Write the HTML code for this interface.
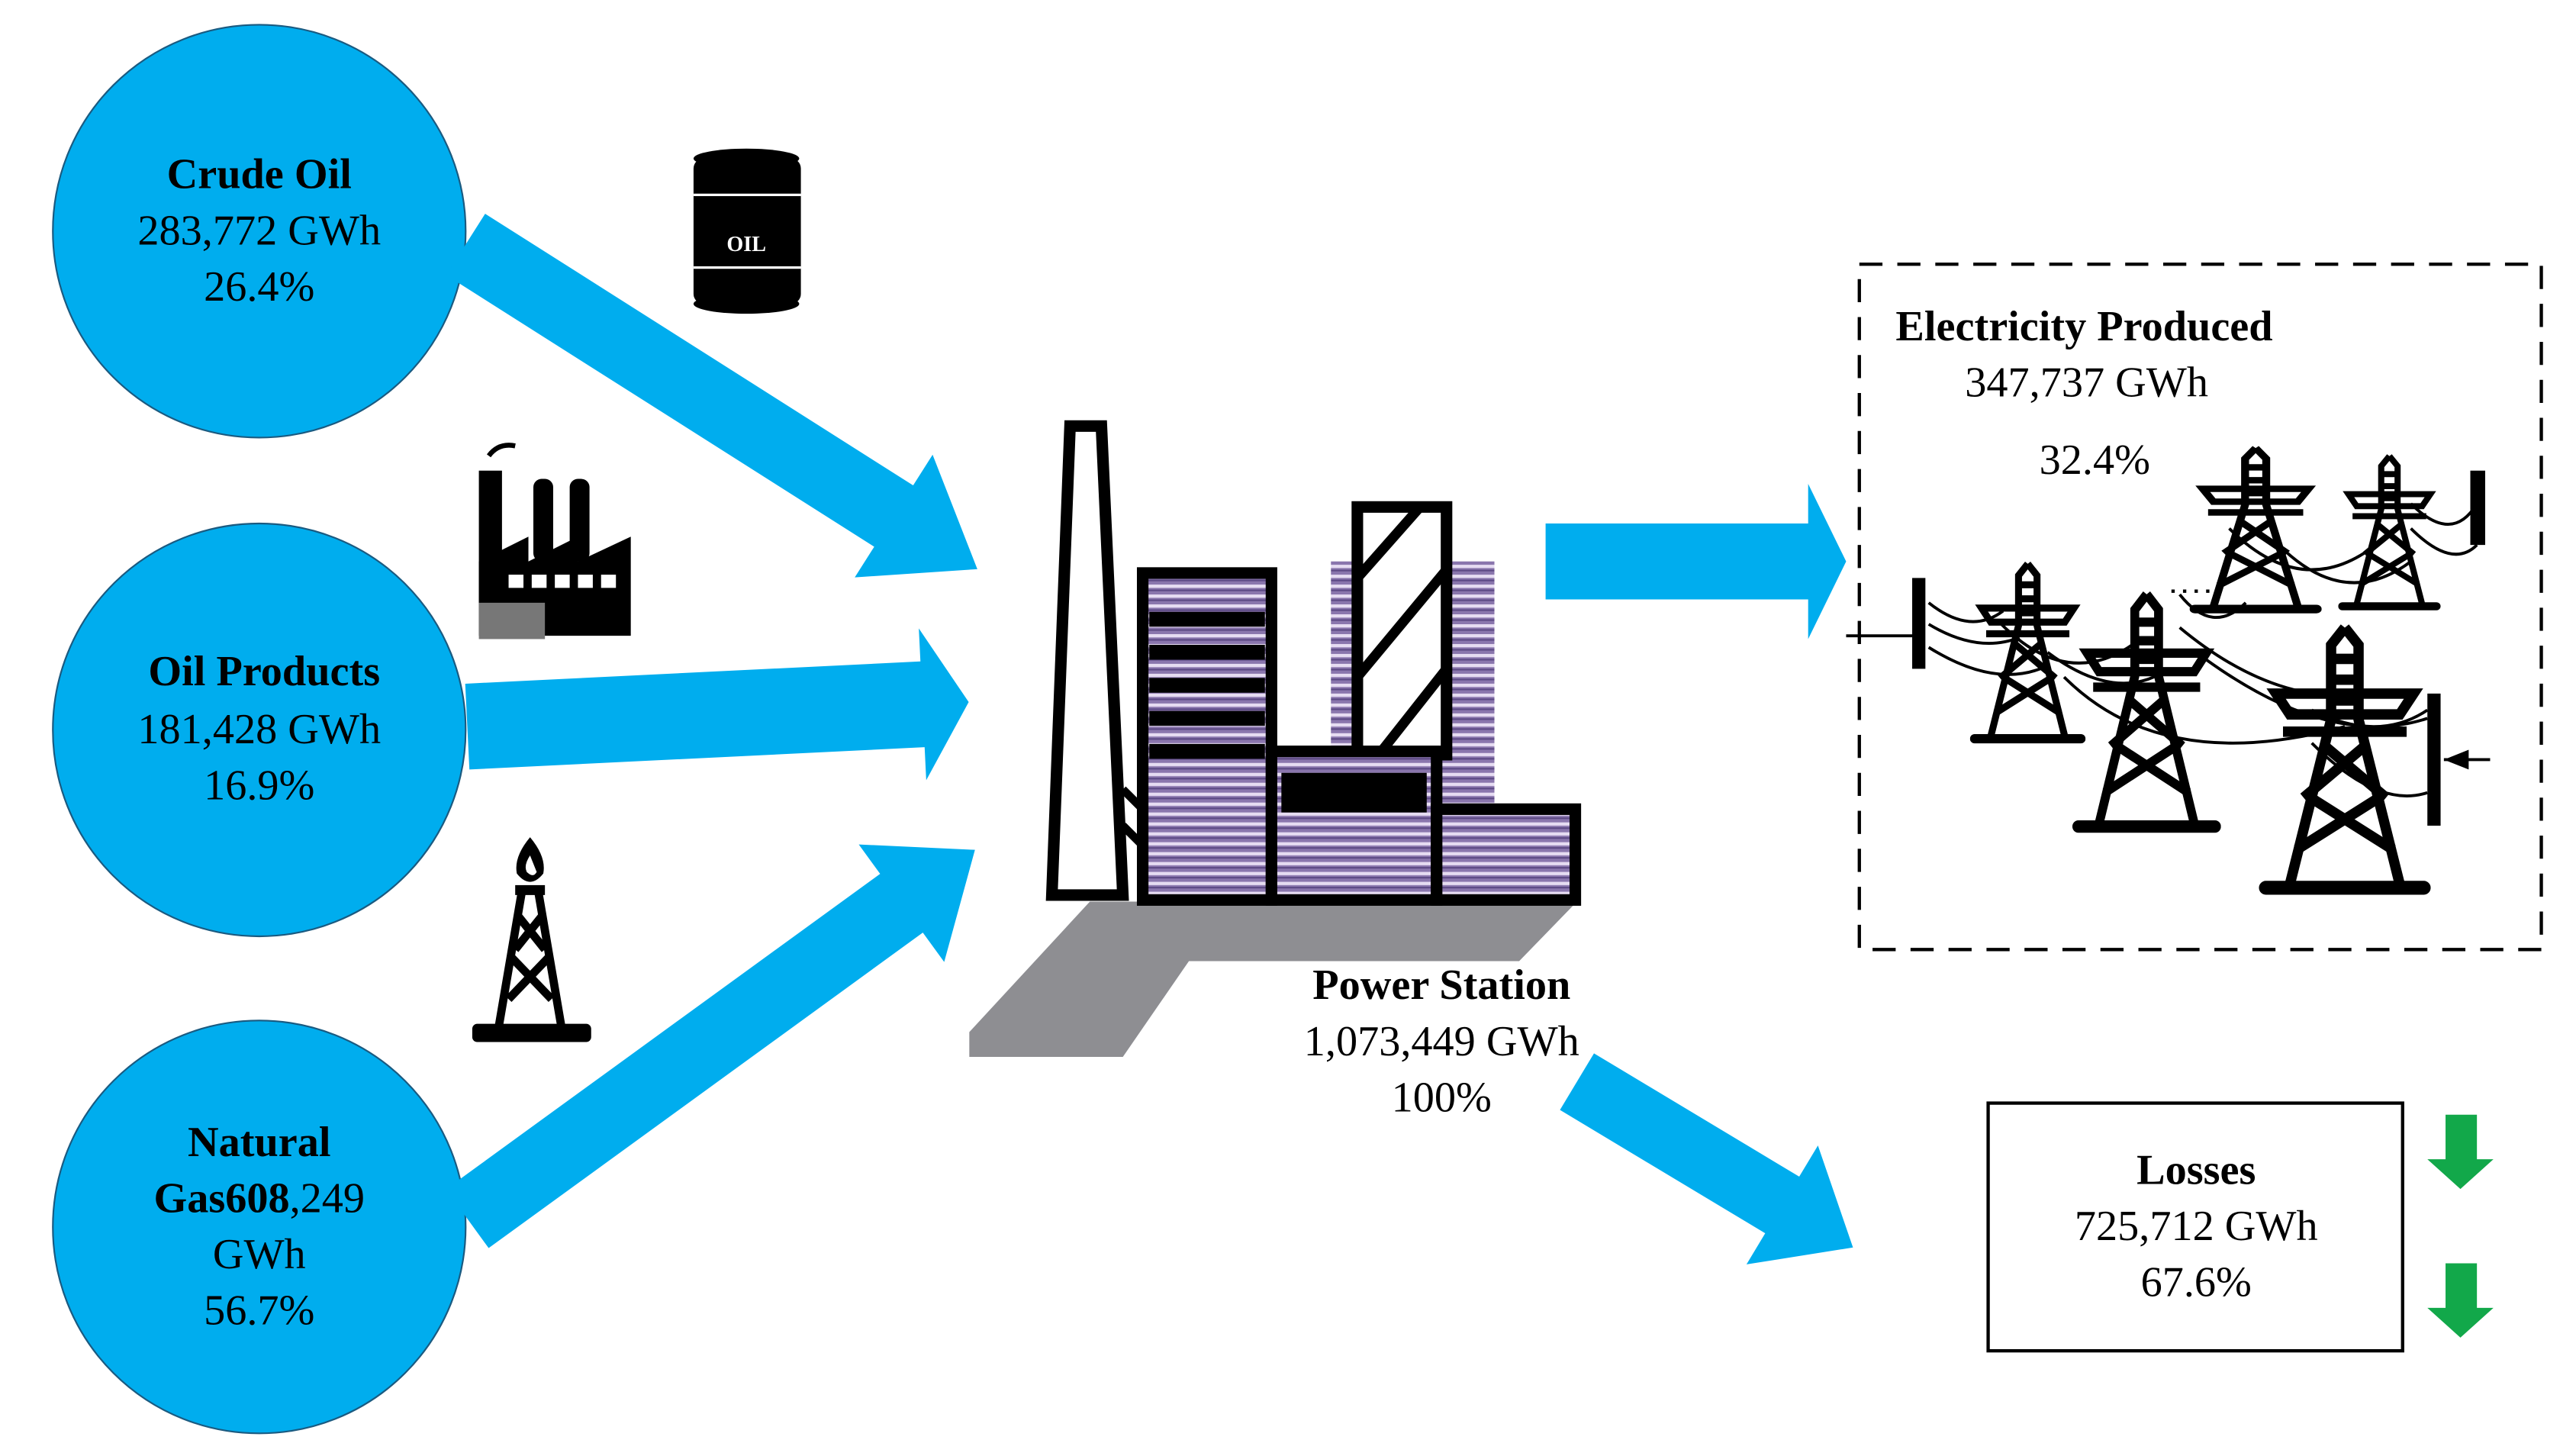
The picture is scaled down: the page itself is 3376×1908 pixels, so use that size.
<!DOCTYPE html>
<html><head><meta charset="utf-8"><style>html,body{margin:0;padding:0;background:#fff}svg{display:block}</style></head>
<body>
<svg width="3376" height="1908" viewBox="0 0 1560 881.7" preserveAspectRatio="none" xmlns="http://www.w3.org/2000/svg" font-family="Liberation Serif, serif">
<defs>
<symbol id="py" viewBox="0 0 100 160" preserveAspectRatio="none">
<g fill="none" stroke="#000" stroke-width="6">
<path d="M50 2 L42 12 L42 55 L18 150 M50 2 L58 12 L58 55 L82 150"/>
<path d="M42 20 H58 M42 32 H58 M42 44 H58 M38 70 L74 100 M62 70 L26 100 M30 100 L78 130 M70 100 L22 130"/>
<path d="M10 40 H90 L82 52 H18 Z M14 62 H86"/>
</g>
<rect x="0" y="148" width="100" height="8" rx="4" fill="#000"/>
</symbol>
<pattern id="st" width="4" height="6" patternUnits="userSpaceOnUse"><rect width="4" height="6" fill="#8a76ad"/><rect y="0" width="4" height="2" fill="#e6dcf2"/><rect y="3" width="4" height="1" fill="#5d4a85"/></pattern>
</defs>

<!-- circles -->
<g fill="#00adee" stroke="#1a5a80" stroke-width="1">
<circle cx="157" cy="140" r="125"/>
<circle cx="157" cy="442" r="125"/>
<circle cx="157" cy="743" r="125"/>
</g>
<g text-anchor="middle" font-size="26" fill="#000">
<text x="157" y="114" font-weight="bold">Crude Oil</text>
<text x="157" y="148">283,772 GWh</text>
<text x="157" y="182">26.4%</text>
<text x="160" y="415" font-weight="bold">Oil Products</text>
<text x="157" y="450">181,428 GWh</text>
<text x="157" y="484">16.9%</text>
<text x="157" y="700" font-weight="bold">Natural</text>
<text x="157" y="734"><tspan font-weight="bold">Gas608</tspan>,249</text>
<text x="157" y="768">GWh</text>
<text x="157" y="802">56.7%</text>
</g>

<!-- arrows -->
<g fill="#00adee">
<polygon transform="translate(282,148) rotate(32.4)" points="0,-22 307,-22 307,-44 367,0 307,44 307,22 0,22"/>
<polygon transform="translate(283,440) rotate(-2.8)" points="0,-26 276,-26 276,-46 304,0 276,46 276,26 0,26"/>
<polygon transform="translate(283,738) rotate(-36)" points="0,-22 325,-22 325,-44 380,0 325,44 325,22 0,22"/>
<polygon points="936,317 1095,317 1095,293 1118,340 1095,387 1095,363 936,363"/>
<polygon transform="translate(955,655) rotate(31)" points="0,-20 145,-20 145,-42 195,0 145,42 145,20 0,20"/>
</g>

<!-- oil barrel -->
<g>
<rect x="420" y="96" width="65" height="88" rx="6" fill="#000"/>
<ellipse cx="452" cy="96" rx="32" ry="6" fill="#000"/>
<ellipse cx="452" cy="184" rx="32" ry="6" fill="#000"/>
<path d="M420 118 H485 M420 162 H485" stroke="#fff" stroke-width="1.5"/>
<text x="452" y="152" text-anchor="middle" font-size="13" font-weight="bold" fill="#fff">OIL</text>
</g>
<!-- factory -->
<g fill="#000">
<rect x="290" y="285" width="14" height="100"/>
<path d="M296 276 q6 -8 16 -6" stroke="#000" stroke-width="3" fill="none"/>
<rect x="323" y="290" width="12" height="50" rx="5"/>
<rect x="345" y="290" width="12" height="50" rx="5"/>
<polygon points="290,385 382,385 382,325 350,340 350,325 320,340 320,325 290,340"/>
<g fill="#fff"><rect x="308" y="348" width="9" height="8"/><rect x="322" y="348" width="9" height="8"/><rect x="336" y="348" width="9" height="8"/><rect x="350" y="348" width="9" height="8"/><rect x="364" y="348" width="9" height="8"/></g>
<rect x="290" y="365" width="40" height="22" fill="#777"/>
</g>
<!-- gas rig -->
<g>
<path d="M321 507 q-10 12 -8 22 q8 10 16 0 q2 -10 -8 -22z" fill="#000"/>
<path d="M321 518 q-4 6 -2 10 q4 4 6 0z" fill="#fff"/>
<g stroke="#000" stroke-width="5" fill="none"><path d="M316 540 L302 622 M326 540 L340 622 M314 555 L330 575 M328 555 L312 575 M310 580 L334 605 M332 580 L308 605"/></g>
<rect x="312" y="536" width="18" height="6" fill="#000"/>
<rect x="286" y="620" width="72" height="11" rx="3" fill="#000"/>
</g>

<!-- power station -->
<polygon points="587,625 660,546 955,546 920,582 720,582 680,640 587,640" fill="#8e8e92"/>
<rect x="806" y="340" width="99" height="150" fill="url(#st)"/>
<polygon points="648,258 667,258 680,542 637,542" fill="#fff" stroke="#000" stroke-width="7"/>
<rect x="692" y="347" width="78" height="198" fill="url(#st)" stroke="#000" stroke-width="7"/>
<g stroke="#000" stroke-width="9"><path d="M696 375 H766 M696 395 H766 M696 415 H766 M696 435 H766 M696 455 H766"/></g>
<rect x="822" y="307" width="54" height="150" fill="#fff" stroke="#000" stroke-width="7"/>
<g stroke="#000" stroke-width="6"><path d="M822 350 L860 307 M822 410 L876 345 M835 457 L876 405"/></g>
<rect x="770" y="455" width="100" height="90" fill="url(#st)" stroke="#000" stroke-width="7"/>
<rect x="776" y="468" width="88" height="24" fill="#000"/>
<rect x="870" y="490" width="84" height="55" fill="url(#st)" stroke="#000" stroke-width="7"/>
<path d="M680 478 L692 490 M680 500 L692 512" stroke="#000" stroke-width="5"/>
<g text-anchor="middle" font-size="26">
<text x="873" y="605" font-weight="bold">Power Station</text>
<text x="873" y="639">1,073,449 GWh</text>
<text x="873" y="673">100%</text>
</g>

<!-- electricity box -->
<rect x="1126" y="160" width="413" height="415" fill="none" stroke="#000" stroke-width="2" stroke-dasharray="14,9"/>
<text x="1148" y="206" font-size="26" font-weight="bold">Electricity Produced</text>
<text x="1190" y="240" font-size="26">347,737 GWh</text>
<text x="1235" y="287" font-size="26">32.4%</text>
<g fill="none" stroke="#000" stroke-width="1.8">
<path d="M1118 385 H1160"/>
<path d="M1168 365 q25 20 45 5 M1168 378 q30 18 55 8 M1168 392 q40 25 70 12"/>
<path d="M1212 378 q40 40 80 12 M1240 395 q40 30 70 12 M1250 410 q60 60 170 30"/>
<path d="M1320 360 q20 25 40 5 M1350 320 q50 50 100 0 M1380 330 q40 40 80 10 M1460 305 q25 25 40 0 M1460 320 q25 25 40 10"/>
<path d="M1320 380 q60 50 120 40 M1330 395 q80 60 140 40 M1400 430 q40 20 70 0 M1400 450 q40 40 70 30"/>
<path d="M1480 460 H1508"/>
</g>
<polygon points="1480,460 1495,454 1495,466" fill="#000"/>
<path d="M1315 358 H1345" stroke="#000" stroke-width="2" stroke-dasharray="2,5"/>
<rect x="1158" y="350" width="8" height="55" fill="#000"/>
<rect x="1496" y="285" width="9" height="45" fill="#000"/>
<rect x="1470" y="420" width="8" height="80" fill="#000"/>
<use href="#py" x="1193" y="340" width="70" height="113"/>
<use href="#py" x="1255" y="358" width="90" height="150"/>
<use href="#py" x="1326" y="270" width="80" height="104"/>
<use href="#py" x="1416" y="275" width="62" height="97"/>
<use href="#py" x="1368" y="378" width="104" height="168"/>

<!-- losses -->
<rect x="1204" y="668" width="251" height="150" fill="#fff" stroke="#000" stroke-width="2"/>
<g text-anchor="middle" font-size="26">
<text x="1330" y="717" font-weight="bold">Losses</text>
<text x="1330" y="751">725,712 GWh</text>
<text x="1330" y="785">67.6%</text>
</g>
<g fill="#12a84a">
<polygon points="1481,675 1500,675 1500,702 1510,702 1490,720 1470,702 1481,702"/>
<polygon points="1481,765 1500,765 1500,792 1510,792 1490,810 1470,792 1481,792"/>
</g>
</svg>
</body></html>
